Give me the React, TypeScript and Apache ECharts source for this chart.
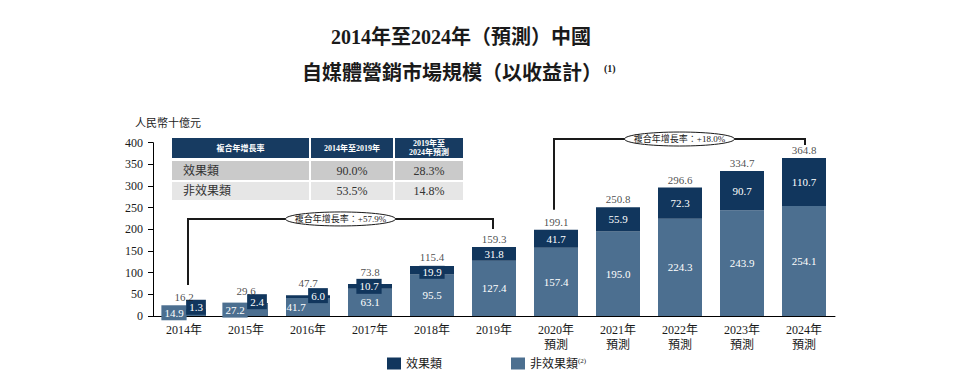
import React, { useEffect, useRef } from 'react';
import * as echarts from 'echarts';

const categories = ['2014年', '2015年', '2016年', '2017年', '2018年', '2019年', '2020年\n預測', '2021年\n預測', '2022年\n預測', '2023年\n預測', '2024年\n預測'];
const nonPerformance = [14.9, 27.2, 41.7, 63.1, 95.5, 127.4, 157.4, 195.0, 224.3, 243.9, 254.1];
const performance = [1.3, 2.4, 6.0, 10.7, 19.9, 31.8, 41.7, 55.9, 72.3, 90.7, 110.7];
const totals = [16.2, 29.6, 47.7, 73.8, 115.4, 159.3, 199.1, 250.8, 296.6, 334.7, 364.8];
const yMin = 0;
const yMax = 400;
const yInterval = 50;
const seriesNames = ['效果類', '非效果類'];
const tableHeader = ['複合年增長率', '2014年至2019年', '2019年至\n2024年預測'];
const tableRows = [
  ['效果類', '90.0%', '28.3%'],
  ['非效果類', '53.5%', '14.8%'],
];
const cagrNotes = [
  { from: 0, to: 5, bracketValue: 224, text: '複合年增長率：+57.9%' },
  { from: 6, to: 10, bracketValue: 408.5, text: '複合年增長率：+18.0%' },
];
const titleLine1 = '2014年至2024年（預測）中國';
const titleLine2 = '自媒體營銷市場規模（以收益計）';
const yAxisName = '人民幣十億元';

const SERIF = "'Liberation Serif', 'Noto Sans CJK TC', serif";
const DARK = '#11365d';
const LIGHT = '#4c6f90';
const TEXT = '#1a1a1a';

// label style overrides for small bars (style only)
const lightLabelOverrides: Record<number, any> = {
  0: { offset: [-10, 0], backgroundColor: LIGHT, padding: [2, 3] },
  1: { offset: [-11, 0], backgroundColor: LIGHT, padding: [2, 3] },
  2: { offset: [-12, 0] },
};
const darkLabelOverrides: Record<number, any> = {
  0: { offset: [12, -2], backgroundColor: DARK, padding: [2, 3] },
  1: { offset: [11, -2], backgroundColor: DARK, padding: [2, 3] },
  2: { offset: [10, -1], backgroundColor: DARK, padding: [2, 3] },
  3: { offset: [-1, 0], backgroundColor: DARK, padding: [2, 3] },
  4: { offset: [0, 2], backgroundColor: DARK, padding: [1, 3] },
};
const totalLabelDistance = (i: number) => (i < 4 ? 6 : i < 5 ? 3 : 2);

export default function App() {
  const ref = useRef<HTMLDivElement>(null);
  useEffect(() => {
    document.body.style.margin = '0';
    if (!ref.current) return;
    const chart = echarts.init(ref.current, undefined, { renderer: 'svg' });
    const fmt = (p: any) => Number(p.value).toFixed(1);
    chart.setOption({
      animation: false,
      tooltip: { show: false },
      grid: { left: 153, right: 133, top: 142.7, bottom: 72, containLabel: false },
      legend: {
        data: seriesNames,
        left: 382,
        top: 352,
        icon: 'rect',
        itemWidth: 14,
        itemHeight: 12,
        itemGap: 69,
        selectedMode: false,
        formatter: (name: string) => (name === '非效果類' ? name + '{sup|(2)}' : name),
        textStyle: {
          fontFamily: SERIF,
          fontSize: 12,
          color: TEXT,
          rich: { sup: { fontSize: 7, fontFamily: SERIF, color: TEXT, verticalAlign: 'top', padding: [0, 0, 6, 0] } },
        },
      },
      xAxis: {
        type: 'category',
        data: categories,
        axisLine: { show: true, lineStyle: { color: '#000', width: 1 } },
        axisTick: { show: false },
        axisLabel: { fontFamily: SERIF, fontSize: 12, color: TEXT, margin: 6, lineHeight: 15, interval: 0 },
      },
      yAxis: {
        type: 'value',
        min: yMin,
        max: yMax,
        interval: yInterval,
        splitLine: { show: false },
        axisLine: { show: true, lineStyle: { color: '#000', width: 1 } },
        axisTick: { show: true, length: 5, lineStyle: { color: '#000' } },
        axisLabel: { fontFamily: SERIF, fontSize: 12, color: TEXT, margin: 10 },
      },
      series: [
        {
          name: '非效果類',
          type: 'bar',
          stack: 'total',
          barWidth: 44,
          itemStyle: { color: LIGHT },
          label: { show: true, position: 'inside', color: '#fff', fontFamily: SERIF, fontSize: 11, formatter: fmt },
          data: nonPerformance.map((v, i) => ({ value: v, label: lightLabelOverrides[i] || {} })),
        },
        {
          name: '效果類',
          type: 'bar',
          stack: 'total',
          barWidth: 44,
          itemStyle: { color: DARK },
          label: { show: true, position: 'inside', color: '#fff', fontFamily: SERIF, fontSize: 11, formatter: fmt },
          data: performance.map((v, i) => ({ value: v, label: darkLabelOverrides[i] || {} })),
        },
        {
          name: 'total',
          type: 'scatter',
          symbolSize: 1,
          itemStyle: { color: 'rgba(0,0,0,0)' },
          z: 5,
          label: { show: true, position: 'top', color: TEXT, fontFamily: SERIF, fontSize: 11, formatter: fmt },
          data: totals.map((v, i) => ({ value: v, label: { distance: totalLabelDistance(i) } })),
        },
      ],
    });

    const xPix = (i: number) => chart.convertToPixel({ xAxisIndex: 0 }, i) as number;
    const yPix = (v: number) => chart.convertToPixel({ yAxisIndex: 0 }, v) as number;

    const graphics: any[] = [];
    // titles
    graphics.push({
      type: 'text',
      style: { text: titleLine1, x: 461, y: 37, fill: TEXT, font: `bold 20px ${SERIF}`, align: 'center', verticalAlign: 'middle', textAlign: 'center', textVerticalAlign: 'middle' },
    });
    graphics.push({
      type: 'text',
      style: { text: titleLine2, x: 452, y: 73, fill: TEXT, font: `bold 20px ${SERIF}`, align: 'center', verticalAlign: 'middle', textAlign: 'center', textVerticalAlign: 'middle' },
    });
    graphics.push({
      type: 'text',
      style: { text: '(1)', x: 604, y: 68, fill: TEXT, font: `bold 10px ${SERIF}`, align: 'left', verticalAlign: 'middle', textAlign: 'left', textVerticalAlign: 'middle' },
    });
    graphics.push({
      type: 'text',
      style: { text: yAxisName, x: 135, y: 123, fill: TEXT, font: `11px ${SERIF}`, align: 'left', verticalAlign: 'middle', textAlign: 'left', textVerticalAlign: 'middle' },
    });

    // table
    const cols = [
      { x: 172, w: 137 },
      { x: 311, w: 82 },
      { x: 395, w: 68 },
    ];
    const rows = [
      { y: 138, h: 20, fill: '#173b61' },
      { y: 161, h: 19, fill: '#cacaca' },
      { y: 182, h: 18, fill: '#e6e6e6' },
    ];
    rows.forEach((r, ri) => {
      cols.forEach((c, ci) => {
        graphics.push({ type: 'rect', shape: { x: c.x, y: r.y, width: c.w, height: r.h }, style: { fill: r.fill }, z: 10 });
        const isHeader = ri === 0;
        const text = isHeader ? tableHeader[ci] : tableRows[ri - 1][ci];
        const leftAligned = !isHeader && ci === 0;
        graphics.push({
          type: 'text',
          z: 11,
          style: {
            text,
            x: leftAligned ? c.x + 11 : c.x + c.w / 2,
            y: r.y + r.h / 2,
            fill: isHeader ? '#fff' : '#333',
            font: isHeader ? `bold 8px ${SERIF}` : `12px ${SERIF}`,
            lineHeight: isHeader ? 9 : 14,
            align: leftAligned ? 'left' : 'center',
            verticalAlign: 'middle',
            textAlign: leftAligned ? 'left' : 'center',
            textVerticalAlign: 'middle',
          },
        });
      });
    });

    // CAGR brackets
    const gaps = [
      { lx: 4, rx: -1, lGap: 24, rGap: 18 },
      { lx: -2, rx: 1, lGap: 20, rGap: 13 },
    ];
    cagrNotes.forEach((n, k) => {
      const g = gaps[k];
      const x1 = xPix(n.from) + g.lx;
      const x2 = xPix(n.to) + g.rx;
      const by = yPix(n.bracketValue);
      const y1 = yPix(totals[n.from]) - g.lGap;
      const y2 = yPix(totals[n.to]) - g.rGap;
      graphics.push({
        type: 'polyline',
        z: 12,
        shape: { points: [[x1, y1], [x1, by], [x2, by], [x2, y2]] },
        style: { stroke: '#1a1a1a', lineWidth: 2, fill: null },
      });
      const cx = (x1 + x2) / 2;
      graphics.push({
        type: 'ellipse',
        z: 13,
        shape: { cx, cy: by, rx: 55, ry: 7 },
        style: { fill: '#fff', stroke: '#1a1a1a', lineWidth: 1 },
      });
      graphics.push({
        type: 'text',
        z: 14,
        style: { text: n.text, x: cx, y: by, fill: TEXT, font: `9px ${SERIF}`, align: 'center', verticalAlign: 'middle', textAlign: 'center', textVerticalAlign: 'middle' },
      });
    });

    chart.setOption({ graphic: graphics });
    return () => chart.dispose();
  }, []);
  return <div ref={ref} style={{ width: 968, height: 388 }} />;
}
